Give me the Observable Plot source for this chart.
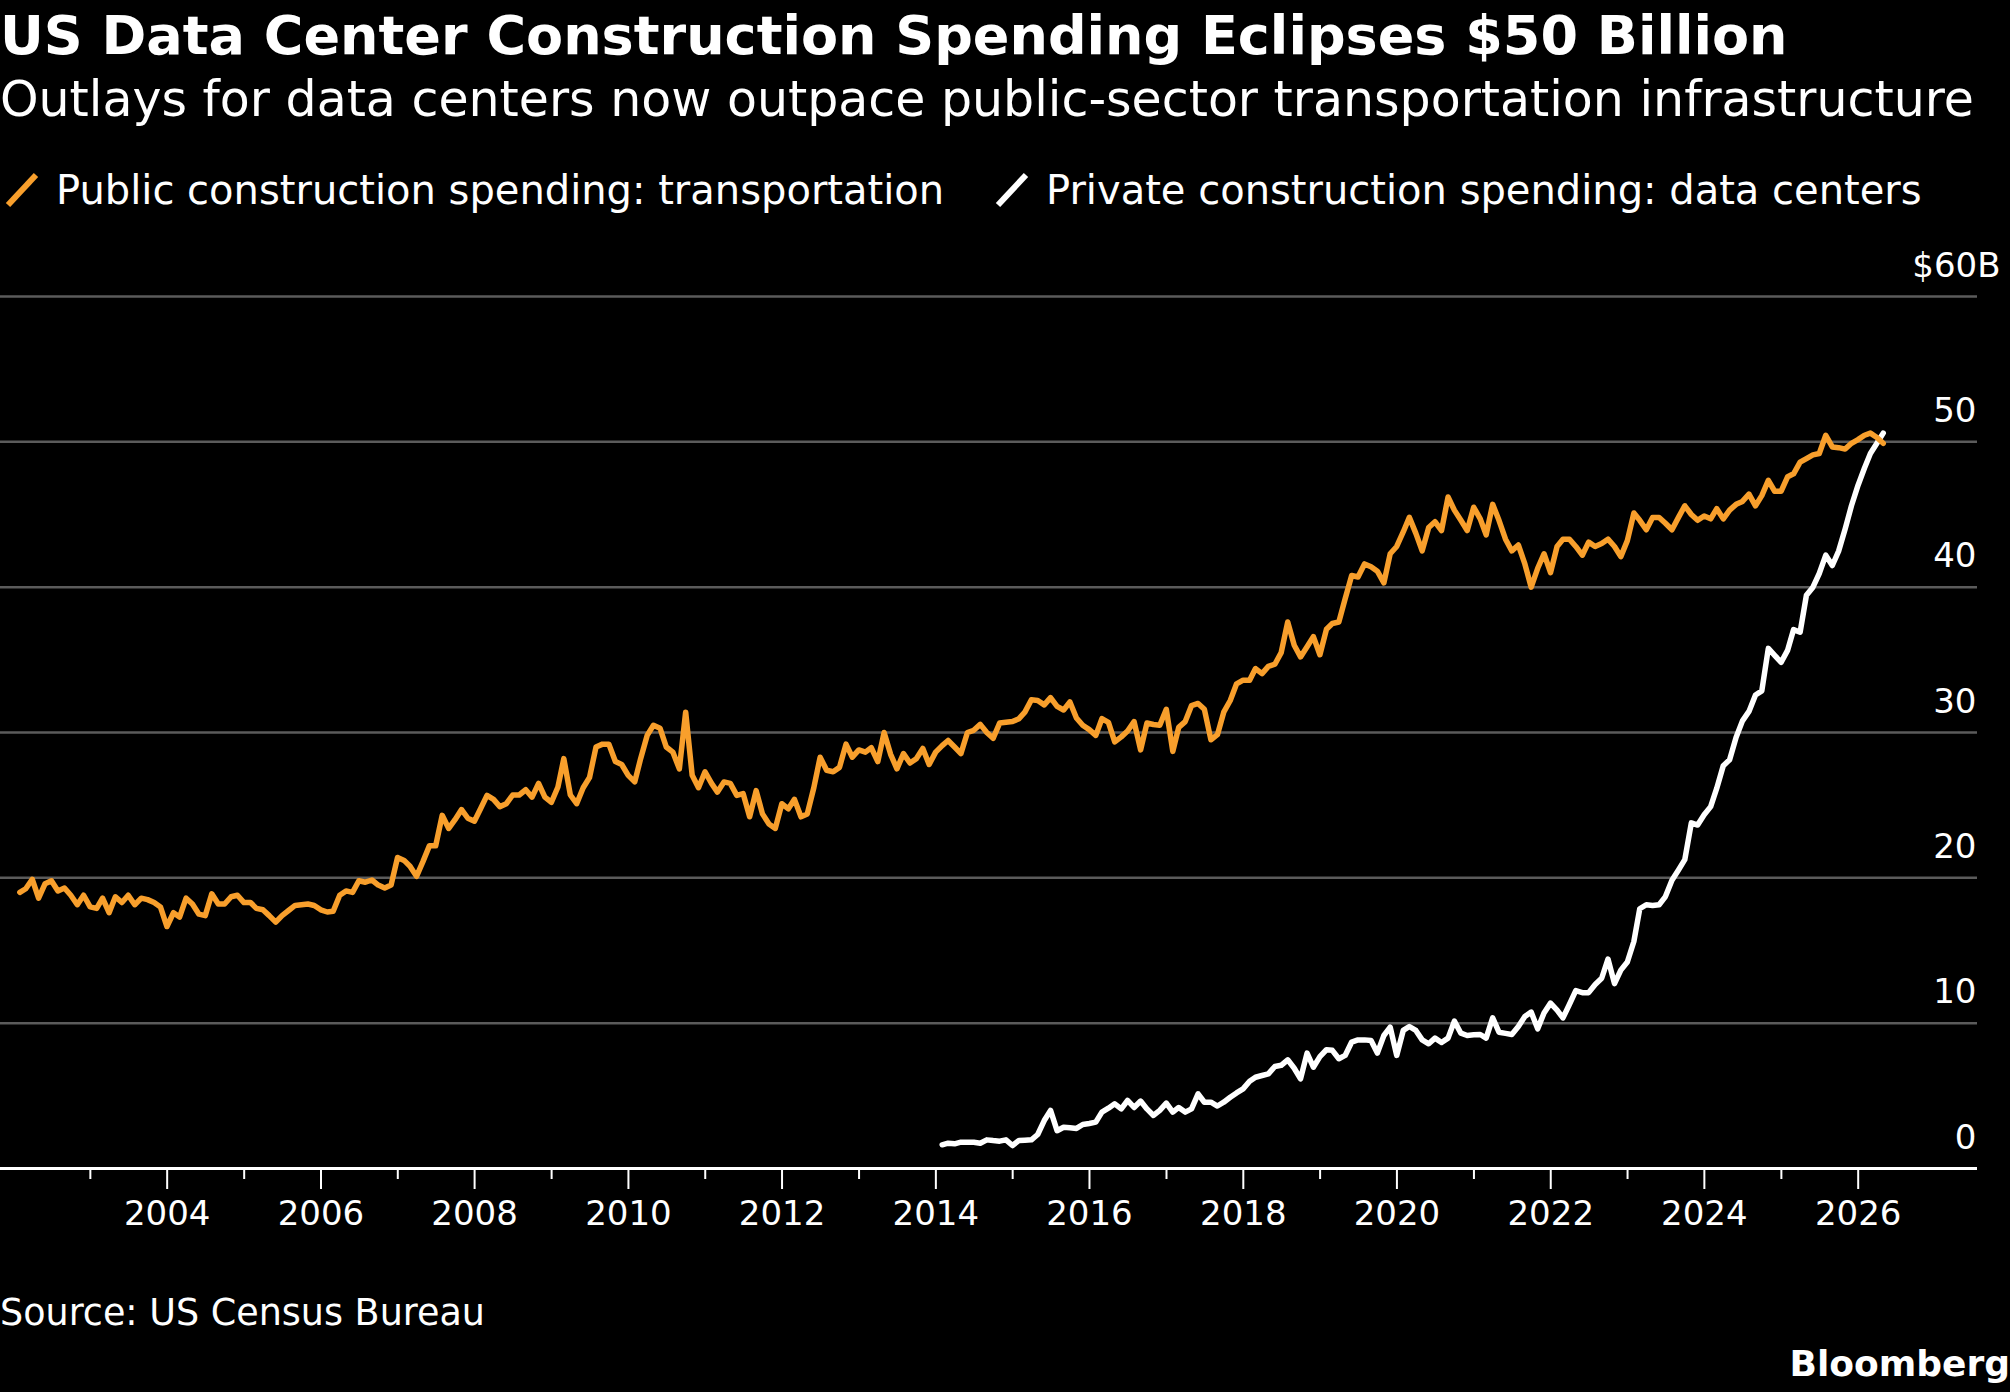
<!DOCTYPE html>
<html><head><meta charset="utf-8">
<script src="https://cdn.jsdelivr.net/npm/d3@7"></script>
<script src="https://cdn.jsdelivr.net/npm/@observablehq/plot@0.6"></script>
<style>
html,body{margin:0;padding:0;background:#000;}
#wrap{position:relative;width:2010px;height:1392px;background:#000;color:#fff;font-family:"DejaVu Sans",sans-serif;overflow:hidden;}
.t{position:absolute;white-space:nowrap;line-height:1;}
#chart{position:absolute;left:0;top:230px;}
.leg{position:absolute;top:170px;display:flex;align-items:center;font-size:40px;line-height:1;white-space:nowrap;}
.leg svg{margin-right:16px;}
</style></head><body>
<div id="wrap">
  <div class="t" id="title" style="left:0;top:9px;font-size:54px;font-weight:bold;"></div>
  <div class="t" id="subtitle" style="left:0;top:75px;font-size:49px;"></div>
  <div id="legend"></div>
  <div id="chart"></div>
  <div class="t" id="source" style="left:0;top:1295px;font-size:36.5px;"></div>
  <div class="t" id="brand" style="right:0;top:1346px;font-size:36px;font-weight:bold;"></div>
</div>
<script>
const titleText = "US Data Center Construction Spending Eclipses $50 Billion";
const subtitleText = "Outlays for data centers now outpace public-sector transportation infrastructure";
const sourceText = "Source: US Census Bureau";
const brandText = "Bloomberg";

const seriesNames = ["Public construction spending: transportation", "Private construction spending: data centers"];
const seriesColors = ["#f89f2c", "#ffffff"];

// monthly values, $ billions (annualized), first month given by *Start
const transportStart = [2002, 0];
const transportation = [
19.0,19.25,19.9,18.6,19.6,19.8,19.1,19.3,18.8,18.15,
18.8,18.0,17.9,18.6,17.6,18.7,18.3,18.8,18.15,18.6,
18.5,18.3,18.0,16.65,17.6,17.3,18.6,18.2,17.5,17.4,
18.9,18.2,18.2,18.7,18.8,18.3,18.3,17.9,17.8,17.4,
16.95,17.4,17.75,18.1,18.15,18.2,18.1,17.8,17.65,17.7,
18.8,19.1,19.0,19.8,19.7,19.85,19.5,19.3,19.5,21.4,
21.2,20.8,20.1,21.1,22.2,22.2,24.3,23.4,24.0,24.7,
24.1,23.9,24.8,
25.67,25.4,24.9,25.1,25.7,25.7,26.06,25.55,26.5,25.55,
25.2,26.25,28.2,25.7,25.1,26.2,26.9,29.0,29.2,29.2,
28.0,27.8,27.05,26.6,28.2,29.8,30.5,30.3,29.0,28.65,
27.5,31.4,27.05,26.2,27.3,26.5,25.9,26.6,26.5,25.67,
25.8,24.2,26.0,24.4,23.7,23.4,25.1,24.75,25.4,24.2,
24.4,26.2,28.3,27.4,27.3,27.6,29.2,28.3,28.8,28.65,
28.95,28.0,30.0,28.5,27.5,28.55,27.9,28.2,28.9,27.8,
28.65,
29.1,29.45,29.0,28.55,30.0,30.15,30.56,30.0,29.6,30.65,
30.7,30.75,30.95,31.4,32.25,32.2,31.9,32.4,31.8,31.55,
32.1,31.0,30.5,30.2,29.8,30.95,30.7,29.35,29.7,30.1,
30.75,28.8,30.65,30.55,30.5,31.6,28.7,30.35,30.75,31.85,
32.0,31.6,29.5,29.85,31.4,32.2,33.35,33.6,33.6,34.4,
34.05,34.55,34.7,35.5,
37.6,36.0,35.2,35.9,36.6,35.35,37.1,37.5,37.6,39.2,
40.8,40.7,41.6,41.4,41.1,40.3,
42.3,42.8,43.8,44.8,43.7,42.5,44.1,44.5,43.9,46.2,
45.3,44.6,43.9,45.5,44.7,43.6,45.7,44.6,43.3,42.5,
42.9,41.6,40.0,41.3,42.3,41.0,42.8,43.3,43.3,42.8,
42.2,43.1,42.8,43.0,43.3,42.8,42.1,43.2,45.1,44.6,
43.95,44.8,44.8,44.4,43.95,44.8,45.6,45.0,44.6,44.9,
44.7,45.4,44.7,45.3,45.7,45.9,46.4,45.6,46.3,47.35,
46.6,46.6,47.6,47.8,48.6,48.85,49.1,49.2,50.45,49.65,
49.6,49.5,49.9,50.15,50.45,50.6,50.3,49.9
];

const dataCenterStart = [2014, 0];
const dataCenters = [
1.63,1.74,1.7,1.81,1.8,1.81,1.74,1.97,1.92,1.88,
1.97,1.58,1.93,1.95,1.97,2.34,3.3,4.0,2.6,2.84,
2.8,2.76,3.03,3.1,3.19,3.88,4.15,4.45,4.1,4.68,
4.2,4.64,4.1,3.65,4.0,4.5,3.88,4.2,3.88,4.1,
5.14,4.56,4.56,4.3,4.56,4.9,5.2,5.48,6.0,6.28,
6.4,6.51,7.02,7.1,7.48,6.9,6.17,7.94,6.97,7.7,
8.17,8.13,7.55,7.78,8.7,8.85,8.85,8.8,7.94,9.15,
9.73,7.78,9.5,9.77,9.5,8.85,8.58,8.97,8.67,8.97,
10.14,9.31,9.15,9.2,9.22,8.97,10.37,9.38,9.3,9.22,
9.77,10.46,10.76,9.61,10.7,11.38,10.9,10.36,11.3,12.24,
12.1,12.1,12.66,13.09,14.41,12.72,13.65,14.21,15.62,17.87,
18.15,18.1,18.15,18.71,19.84,20.54,21.25,23.78,23.63,24.34,
24.9,26.17,27.72,28.13,29.68,30.8,31.45,32.58,32.86,35.79,
35.31,34.83,35.67,37.08,36.9,39.44,40.0,40.94,42.2,41.49,
42.48,44.0,45.6,47.0,48.2,49.2,49.9,50.6
];

const yTicks = [0, 10, 20, 30, 40, 50];
const yTopTick = 60;
const yTopLabel = "$60B";
const majorYears = [2004, 2006, 2008, 2010, 2012, 2014, 2016, 2018, 2020, 2022, 2024, 2026];
const minorYears = [2003, 2005, 2007, 2009, 2011, 2013, 2015, 2017, 2019, 2021, 2023, 2025];
const xDomain = ["2001-10-31", "2027-07-22"];

// build rows (values plotted at month end)
function rows(start, values) {
  return values.map((v, i) => ({date: new Date(Date.UTC(start[0], start[1] + i + 1, 0)), value: v}));
}
const transRows = rows(transportStart, transportation);
const dcRows = rows(dataCenterStart, dataCenters);
const yr = y => new Date(Date.UTC(y, 0, 1));

document.getElementById("title").textContent = titleText;
document.getElementById("subtitle").textContent = subtitleText;
document.getElementById("source").textContent = sourceText;
document.getElementById("brand").textContent = brandText;

// legend
const legend = document.getElementById("legend");
const legendX = [4, 994];
seriesNames.forEach((name, i) => {
  const item = document.createElement("div");
  item.className = "leg";
  item.style.left = legendX[i] + "px";
  item.innerHTML = `<svg width="36" height="36" viewBox="0 0 36 36"><line x1="4" y1="33" x2="32" y2="3" stroke="${seriesColors[i]}" stroke-width="6"/></svg><span>${name}</span>`;
  legend.appendChild(item);
});

const FONT = '"DejaVu Sans", sans-serif';
const chart = Plot.plot({
  width: 2010,
  height: 1020,
  marginLeft: 0,
  marginRight: 33,
  marginTop: 66,
  marginBottom: 82,
  style: {background: "#000", color: "#fff", fontFamily: FONT, fontSize: "34px", overflow: "visible"},
  x: {type: "utc", domain: xDomain.map(d => new Date(d)), label: null},
  y: {domain: [0, 60], axis: null, label: null},
  marks: [
    Plot.ruleY([...yTicks.filter(d => d > 0), yTopTick], {stroke: "#5b5b5b", strokeWidth: 2.5}),
    Plot.ruleY([0], {stroke: "#fff", strokeWidth: 3}),
    Plot.axisX(minorYears.map(yr), {tickSize: 11, tickFormat: () => "", stroke: "#fff", strokeWidth: 2, label: null}),
    Plot.axisX(majorYears.map(yr), {tickSize: 21, tickPadding: 11, stroke: "#fff", strokeWidth: 2, fill: "#fff",
      tickFormat: d => String(d.getUTCFullYear()), fontSize: 34, label: null}),
    Plot.text(yTicks, {y: d => d, text: d => String(d), frameAnchor: "right", textAnchor: "end", lineAnchor: "bottom",
      dy: -20, dx: -1, fill: "#fff", fontSize: 34}),
    Plot.text([yTopTick], {y: d => d, text: () => yTopLabel, frameAnchor: "right", textAnchor: "end", lineAnchor: "bottom",
      dy: -20, dx: 23, fill: "#fff", fontSize: 34}),
    Plot.lineY(dcRows, {x: "date", y: "value", stroke: seriesColors[1], strokeWidth: 5.5, strokeLinejoin: "round", strokeLinecap: "round"}),
    Plot.lineY(transRows, {x: "date", y: "value", stroke: seriesColors[0], strokeWidth: 5.5, strokeLinejoin: "round", strokeLinecap: "round"})
  ]
});
document.getElementById("chart").appendChild(chart);
</script>
</body></html>
